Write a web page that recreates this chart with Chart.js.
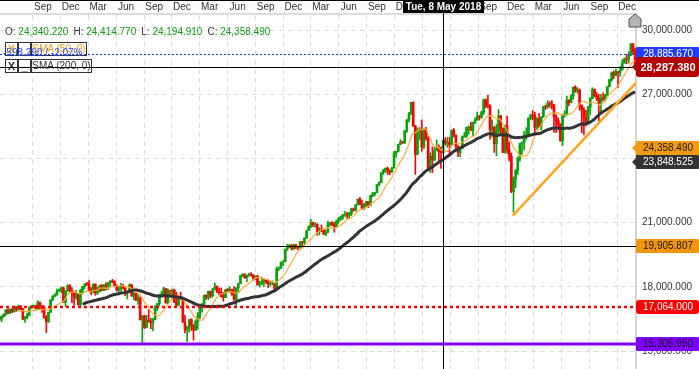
<!DOCTYPE html>
<html>
<head>
<meta charset="utf-8">
<script src="https://cdn.jsdelivr.net/npm/chart.js@4.4.1/dist/chart.umd.min.js"></script>
<style>
  html, body { margin: 0; padding: 0; background: #fff; }
  #wrap { position: relative; width: 699px; height: 369px; overflow: hidden; font-family: "Liberation Sans", Arial, sans-serif; font-size: 10px; }
  #c { position: absolute; left: 0; top: 0; }
  #ohlc { position: absolute; left: 5px; top: 26px; color: #333; white-space: nowrap; line-height: 12px; }
  #ohlc span { color: #11a011; margin-right: 5px; }
  .btn, .name { position: absolute; box-sizing: border-box; height: 14px; border: 1px solid #333; line-height: 12px; text-align: center; white-space: nowrap; }
  .btn { width: 13px; font-weight: bold; font-size: 11px; }
  #diff { position: absolute; left: 3px; top: 47px; color: #2a4dff; line-height: 12px; white-space: nowrap; }
</style>
</head>
<body>
<div id="wrap">
  <canvas id="c" width="699" height="369"></canvas>
  <div id="ohlc"></div>
  <div style="color:#f7a01a">
    <span class="btn" style="left:5px;top:42px">X</span>
    <span class="btn" style="left:18px;top:42px">_</span>
    <span class="name" style="left:31px;top:42px;width:56px">SMA (50, 0)</span>
  </div>
  <div style="color:#333">
    <span class="btn" style="left:5px;top:59px">X</span>
    <span class="btn" style="left:18px;top:59px">_</span>
    <span class="name" style="left:31px;top:59px;width:61px">SMA (200, 0)</span>
  </div>
  <div id="diff">-598.290 / -2.07%</div>
</div>
<script>
// weekly bars, first bar = week ending 16 May 2014 (plotted mid-week)
const firstWeek = '2014-05-14';
const firstOpen = 16583;

const closes = [
  16491,16606,16717,16924,16776,16947,16851,17068,16944,17100,16961,16493,16554,16663,17001,17098,17137,16988,17280,17113,17009,16544,16380,16805,17391,17573,17634,17810,17828,17959,17281,17805,18053,
  17833,17737,17512,17672,17165,17825,18019,18140,18133,17856,17749,18128,17713,17763,18058,17827,18080,18024,18191,18272,18232,18011,17849,17899,18015,17947,17730,17760,18086,17568,17690,17373,17477,16460,16643,16102,16433,16385,16315,16472,17084,17216,17647,17664,17910,17245,17824,17798,17848,17265,17128,17553,17425,
  16347,15988,16094,16466,16205,15974,16392,16640,17007,17213,17602,17516,17793,17577,17898,18004,17774,17740,17535,17501,17873,17807,17866,17675,17400,17949,18147,18517,18571,18432,18543,18577,18553,18395,18492,18085,18124,18262,18308,18240,18138,18146,18161,17888,18848,18868,19152,19171,19757,19843,19934,19763,
  19964,19886,19827,20094,20071,20269,20624,20822,21006,20903,20915,20597,20663,20656,20453,20548,20941,21007,20897,20805,21080,21206,21272,21384,21395,21350,21414,21638,21580,21830,22092,21858,21675,21814,21988,21798,22268,22350,22405,22774,22871,23329,23434,23539,23422,23358,23558,24231,24329,24652,24754,24719,
  25296,25803,26072,26616,25521,24191,25219,25310,24538,25336,24946,23533,24103,23933,24360,24463,24311,24263,24831,24715,24753,24635,25317,25090,24581,24271,24456,25019,25058,25451,25463,25313,25669,25790,25965,25917,26155,26744,26458,26447,25340,25444,24689,25271,25989,25413,24286,25538,24389,24101,22446,23062,
  23433,23996,24706,24737,25064,25106,25883,26031,26026,25450,25849,25502,25929,26425,26412,26559,26543,26505,25942,25764,25586,24815,25984,26090,26719,26600,26922,27332,27154,27192,26485,26287,25886,25629,26403,26797,27220,26935,26820,26573,26817,26770,26958,27347,27681,28005,27876,28051,28015,28135,28455,28645,
  28635,28824,29348,28990,28287
];
const highs = [
  16740,16640,16740,16930,16970,16980,16980,17075,17080,17150,17110,17000,16620,16770,17070,17120,17150,17140,17350,17290,17140,17100,16650,16820,17400,17580,17680,17890,17900,17990,17990,17830,18100,
  18100,17960,17780,17830,17680,17890,18020,18140,18210,18290,17960,18130,18130,17990,18080,18110,18100,18180,18210,18290,18350,18290,18100,18010,18160,18130,17950,17800,18140,18120,17760,17710,17640,17530,16650,16660,16670,16930,16530,16530,17110,17220,17650,17800,17980,17920,17910,17840,17890,17900,17750,17610,17750,
  17430,16670,16150,16470,16510,16240,16460,16800,17070,17220,17620,17630,17800,17800,17930,18170,18040,17940,17950,17740,17880,17930,18010,17890,18010,17960,18150,18540,18620,18620,18550,18640,18670,18580,18520,18540,18260,18450,18370,18330,18330,18260,18280,18170,18930,18930,19160,19230,19760,19990,19990,19980,
  19999,19970,19890,20130,20130,20300,20640,20840,21170,21020,21000,20950,20760,20890,20700,20650,21070,21010,21050,21000,21110,21230,21310,21390,21530,21480,21480,21680,21680,21840,22110,22180,22050,21900,22000,21990,22280,22420,22420,22780,22900,23330,23490,23560,23600,23460,23580,24330,24340,24670,24880,24810,
  25300,25810,26150,26620,26650,25540,25430,25440,25800,25340,25450,25010,24270,24540,24520,24860,24630,24540,24870,24970,24980,24990,25330,25400,25100,24600,24460,25050,25220,25470,25520,25690,25700,25900,26170,26010,26210,26770,26770,26950,26520,25800,25500,25590,26280,26000,25420,25560,25980,24770,24250,23140,
  23490,24070,24710,24770,25260,25440,25900,26060,26240,26160,25910,26110,25950,26430,26490,26700,26660,26700,26520,26050,25900,25630,26000,26230,26910,26750,26970,27340,27400,27300,27250,26500,26380,26250,26430,26840,27300,27250,27080,27000,26990,27060,27000,27350,27700,28040,28090,28170,28070,28290,28610,28700,
  28870,28990,29370,29380,29160
];
const lows = [
  16400,16370,16580,16660,16730,16740,16790,16810,16850,16910,16920,16460,16330,16500,16660,17000,17030,16960,16940,16940,16800,16540,15860,16330,16800,17340,17530,17600,17780,17720,17270,17070,17790,
  17730,17260,17140,17420,17130,17040,17660,17920,18070,17800,17630,17710,17600,17640,17760,17810,17820,17840,17870,18020,18190,18000,17790,17630,17780,17890,17580,17430,17760,17560,17400,17340,17180,16450,15370,16040,16090,16340,16040,15940,16460,16880,17120,17530,17630,17240,17210,17600,17460,17260,17100,17140,17420,
  16340,15840,15450,15880,15960,15500,15960,16010,16510,16820,17160,17410,17400,17480,17520,17860,17730,17630,17530,17330,17490,17730,17800,17600,17360,17060,17710,18150,18460,18390,18240,18480,18500,18290,18330,18080,17990,18110,18010,18150,17960,18030,18090,17880,17880,18770,18860,18990,19170,19700,19840,19720,
  19750,19780,19730,19800,19830,19970,20280,20620,20750,20810,20790,20410,20420,20570,20450,20380,20540,20840,20860,20550,20800,20970,21100,21150,21290,21190,21200,21320,21530,21540,21820,21840,21600,21600,21740,21700,21790,22200,22250,22400,22720,22870,23240,23350,23250,23240,23350,23540,24060,24300,24650,24710,
  24700,25220,25700,26060,25490,23250,24160,24880,24340,24450,24850,23510,23340,23340,23890,24360,23870,23530,24230,24620,24520,24080,24630,24990,24460,24080,24080,24450,24980,24970,25140,25300,25040,25620,25790,25790,25870,26050,26360,26360,24900,25000,24280,24120,25180,25050,24270,24240,24240,23880,22400,21480,
  22640,23250,23870,24190,24400,24880,25020,25800,25800,25210,25360,25440,25340,25960,26280,26340,26390,26300,25220,25220,25330,24810,24600,25930,26010,26450,26600,26760,27090,27050,26250,25200,25100,25520,25590,26050,26790,26880,26700,25740,26080,26700,26680,26930,27370,27600,27730,27890,27320,27830,28150,28470,
  28420,28450,28800,28860,28170
];

const tickDates = ['2014-09-01','2014-12-01','2015-03-01','2015-06-01','2015-09-01','2015-12-01','2016-03-01','2016-06-01',
  '2016-09-01','2016-12-01','2017-03-01','2017-06-01','2017-09-01','2017-12-01','2018-03-01','2018-06-01',
  '2018-09-01','2018-12-01','2019-03-01','2019-06-01','2019-09-01','2019-12-01'];
const tickLabels = ['Sep','Dec','Mar','Jun','Sep','Dec','Mar','Jun','Sep','Dec','Mar','Jun',
  'Sep','Dec','Mar','Jun','Sep','Dec','Mar','Jun','Sep','Dec'];
const yTicks = [15000, 18000, 21000, 24000, 27000, 30000];

// horizontal levels / price tags on the right
const levelValues = [28885.67, 28287.38, 24358.49, 23848.525, 19905.807, 17064.0, 15305.95];
const levelStyles = [
  {line: '#1f3cff', dash: [2, 2], width: 1, box: '#1f3cff', text: '#fff'},
  {line: '#000', dash: [], width: 1, box: '#b40000', text: '#fff', big: true, arrow: true},
  {line: null, box: '#f39a12', text: '#1a1a1a', arrow: true},
  {line: null, box: '#333', text: '#fff', arrow: true},
  {line: '#000', dash: [], width: 1, box: '#f0960e', text: '#1a1a1a'},
  {line: '#ff0000', dash: [3, 3], width: 2.5, box: '#ff0000', text: '#fff', round: true},
  {line: '#8000ff', dash: [], width: 3, box: '#8000ff', text: '#111'}
];

const trendDates = ['2018-12-24', '2020-02-01'];
const trendValues = [21330, 27530];

const crossDate = '2018-05-08';
const crossText = 'Tue, 8 May 2018';
const ohlcNames = ['O', 'H', 'L', 'C'];
const ohlcValues = [24340.22, 24414.77, 24194.91, 24358.49];

const ORIGIN = Date.UTC(2014, 8, 1);
function dayOf(s) {
  const p = s.split('-').map(Number);
  return (Date.UTC(p[0], p[1] - 1, p[2]) - ORIGIN) / 864e5;
}
const fmt = v => v.toLocaleString('en-US', {minimumFractionDigits: 3, maximumFractionDigits: 3});

document.getElementById('ohlc').innerHTML = ohlcNames.map((n, i) => n + ': <span>' + fmt(ohlcValues[i]) + '</span>').join('');

const x0 = dayOf(firstWeek);
const weekX = closes.map((c, i) => x0 + 7 * i);
const opens = closes.map((c, i) => i === 0 ? firstOpen : closes[i - 1]);
const up = closes.map((c, i) => c >= opens[i]);
const candleCol = up.map(u => u ? '#0aa20a' : '#ff0000');

function sma(n) {
  const out = [];
  for (let i = n - 1; i < closes.length; i++) {
    let s = 0;
    for (let k = i - n + 1; k <= i; k++) s += closes[k];
    out.push({x: weekX[i], y: s / n});
  }
  return out;
}

const FONT = '"Liberation Sans", Arial, sans-serif';

const overlay = {
  id: 'overlay',
  afterDatasetsDraw(chart) {
    const {ctx, chartArea: a, scales: {x, y}} = chart;
    ctx.save();
    levelValues.forEach((v, i) => {
      const s = levelStyles[i];
      if (!s.line) return;
      let py = Math.round(y.getPixelForValue(v));
      if (s.width === 1) py += 0.5;
      ctx.beginPath();
      ctx.setLineDash(s.dash);
      ctx.lineWidth = s.width;
      ctx.strokeStyle = s.line;
      ctx.moveTo(a.left, py);
      ctx.lineTo(a.right, py);
      ctx.stroke();
    });
    ctx.setLineDash([]);
    const cx = Math.round(x.getPixelForValue(dayOf(crossDate))) + 0.5;
    ctx.strokeStyle = '#000';
    ctx.lineWidth = 1;
    ctx.beginPath();
    ctx.moveTo(cx, 0);
    ctx.lineTo(cx, chart.height);
    ctx.stroke();
    ctx.restore();
  },
  afterDraw(chart) {
    const {ctx, chartArea: a, scales: {x, y}} = chart;
    const W = chart.width;
    ctx.save();
    // top frame line
    ctx.fillStyle = '#000';
    ctx.fillRect(0, 0, W, 1);

    // crosshair date tag
    const cx = Math.round(x.getPixelForValue(dayOf(crossDate))) + 0.5;
    ctx.font = 'bold 10px ' + FONT;
    const tw = ctx.measureText(crossText).width + 6;
    ctx.fillStyle = '#000';
    ctx.fillRect(Math.round(cx - tw / 2), 0, Math.round(tw), 13);
    ctx.fillStyle = '#fff';
    ctx.textAlign = 'center';
    ctx.textBaseline = 'middle';
    ctx.fillText(crossText, cx, 7);

    // "go to end" marker
    const mx = a.right - 1;
    ctx.beginPath();
    ctx.moveTo(mx, 14);
    ctx.lineTo(mx + 6, 19);
    ctx.lineTo(mx + 6, 27);
    ctx.lineTo(mx - 6, 27);
    ctx.lineTo(mx - 6, 19);
    ctx.closePath();
    ctx.fillStyle = '#b4b4b4';
    ctx.fill();
    ctx.strokeStyle = '#555';
    ctx.lineWidth = 1;
    ctx.stroke();

    // price tags
    const tags = levelValues.map((v, i) => ({v, s: levelStyles[i], cy: y.getPixelForValue(v), h: levelStyles[i].big ? 20 : 14}));
    for (let i = tags.length - 2; i >= 0; i--) {
      const t = tags[i], n = tags[i + 1];
      if (t.s.big || n.s.big) continue;
      const gap = (t.h + n.h) / 2;
      if (n.cy - t.cy < gap) t.cy = n.cy - gap;
    }
    const left = a.right, right = W;
    tags.forEach(t => {
      const top = Math.round(t.cy - t.h / 2);
      ctx.fillStyle = t.s.box;
      ctx.beginPath();
      if (ctx.roundRect) ctx.roundRect(left, top, right - left, t.h, t.s.big || t.s.round ? 3 : 1);
      else ctx.rect(left, top, right - left, t.h);
      ctx.fill();
      if (t.s.arrow) {
        ctx.beginPath();
        ctx.moveTo(left - 4, top + t.h / 2);
        ctx.lineTo(left + 1, top + t.h / 2 - 5);
        ctx.lineTo(left + 1, top + t.h / 2 + 5);
        ctx.closePath();
        ctx.fill();
      }
      ctx.fillStyle = t.s.text;
      ctx.font = (t.s.big ? 'bold 11px ' : '10px ') + FONT;
      ctx.textAlign = 'center';
      ctx.textBaseline = 'middle';
      ctx.fillText(fmt(t.v), (left + right) / 2 + 0.5, top + t.h / 2 + 0.5);
    });
    ctx.restore();
  }
};

new Chart(document.getElementById('c'), {
  type: 'bar',
  data: {
    datasets: [
      {
        type: 'line', label: 'trend', order: 0,
        data: trendDates.map((d, i) => ({x: dayOf(d), y: trendValues[i]})),
        borderColor: '#ffa41c', borderWidth: 2.5, pointRadius: 0
      },
      {
        type: 'line', label: 'SMA (200, 0)', order: 1,
        data: sma(40),
        borderColor: '#333', borderWidth: 3, pointRadius: 0, tension: 0.3
      },
      {
        type: 'line', label: 'SMA (50, 0)', order: 2,
        data: sma(10),
        borderColor: '#ffab3a', borderWidth: 1.2, pointRadius: 0, tension: 0.3
      },
      {
        label: 'body', order: 3, grouped: false,
        data: weekX.map((d, i) => ({x: d, y: [opens[i], closes[i]]})),
        backgroundColor: candleCol, barThickness: 2, borderWidth: 0
      },
      {
        label: 'wick', order: 4, grouped: false,
        data: weekX.map((d, i) => ({x: d, y: [Math.min(lows[i], opens[i], closes[i]), Math.max(highs[i], opens[i], closes[i])]})),
        backgroundColor: candleCol, barThickness: 1, borderWidth: 0
      }
    ]
  },
  options: {
    responsive: false,
    animation: false,
    events: [],
    layout: {padding: 0, autoPadding: false},
    plugins: {legend: {display: false}, tooltip: {enabled: false}},
    scales: {
      x: {
        type: 'linear',
        position: 'top',
        min: dayOf('2014-05-16'),
        max: dayOf('2020-02-01'),
        offset: false,
        afterBuildTicks: s => { s.ticks = tickDates.map(d => ({value: dayOf(d)})); },
        afterFit: s => { s.height = 14; s.paddingLeft = 0; s.paddingRight = 0; },
        ticks: {
          autoSkip: false, maxRotation: 0, padding: 1, labelOffset: 10,
          color: '#333', font: {family: FONT, size: 10},
          callback: (v, i) => tickLabels[i]
        },
        grid: {color: '#dcdcdc', drawTicks: false, offset: false},
        border: {color: '#dcdcdc', width: 2, dash: [5, 4]}
      },
      y: {
        type: 'linear',
        position: 'right',
        min: 14159,
        max: 30748,
        afterBuildTicks: s => { s.ticks = yTicks.map(v => ({value: v})); },
        afterFit: s => { s.width = 63; s.paddingTop = 0; s.paddingBottom = 0; },
        ticks: {
          padding: 6, color: '#333', font: {family: FONT, size: 10},
          callback: v => fmt(v)
        },
        grid: {color: '#dcdcdc', drawTicks: false},
        border: {color: '#d4d4d4', width: 2, dash: [5, 4]}
      }
    }
  },
  plugins: [overlay]
});
</script>
</body>
</html>
